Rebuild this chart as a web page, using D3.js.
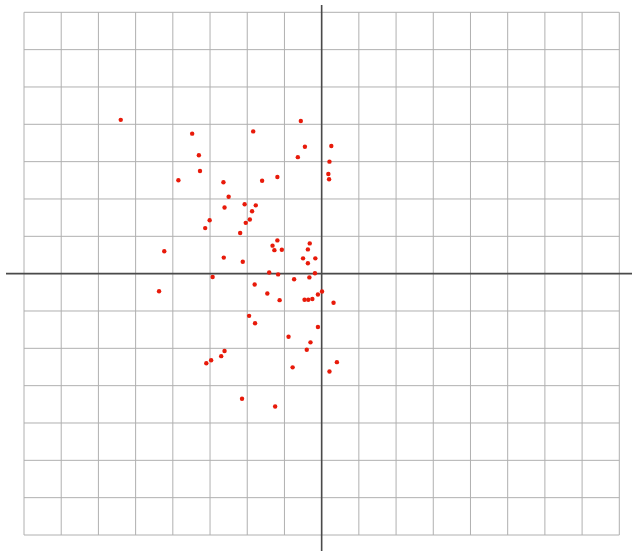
<!DOCTYPE html>
<html>
<head>
<meta charset="utf-8">
<script src="https://cdn.jsdelivr.net/npm/d3@7"></script>
<style>
  body { margin: 0; background: #fff; }
  svg { display: block; }
</style>
</head>
<body>
<svg id="chart" width="632" height="551"></svg>
<script>
// grid extents, in grid units
var xDomain = [-8, 8];
var yDomain = [-7, 7];

// scattered points
var xs = [-5.40, -3.48, -3.30, -3.27, -3.85, -2.64, -2.50, -2.61, -2.07, -1.77,
          -1.87, -1.93, -2.04, -3.01, -3.13, -2.19, -1.84, -1.60, -1.19, -0.56,
          -0.45, -0.64, 0.26, 0.21, 0.18, 0.20, -1.19, -1.32, -1.27, -1.07,
          -0.32, -0.37, -0.50, -0.17, -0.37, -4.23, -2.63, -2.12, -1.41, -1.17,
          -0.74, -0.33, -0.18, -2.93, -4.37, -1.80, -1.46, -1.13, -0.46, -0.36,
          -0.25, -0.10, 0.01, 0.32, -1.95, -1.79, -0.10, -0.89, -0.30, -0.40,
          0.41, 0.21, -0.78, -2.61, -2.70, -2.97, -3.10, -2.14, -1.25];
var ys = [4.12, 3.75, 3.17, 2.75, 2.50, 2.45, 2.06, 1.77, 1.86, 1.83,
          1.67, 1.45, 1.36, 1.43, 1.22, 1.09, 3.81, 2.49, 2.59, 4.09,
          3.40, 3.12, 3.42, 3.00, 2.67, 2.53, 0.89, 0.75, 0.63, 0.64,
          0.81, 0.65, 0.41, 0.41, 0.28, 0.60, 0.43, 0.32, 0.03, -0.02,
          -0.15, -0.10, 0.01, -0.09, -0.47, -0.29, -0.53, -0.71, -0.70, -0.70,
          -0.68, -0.56, -0.48, -0.78, -1.13, -1.33, -1.43, -1.69, -1.84, -2.04,
          -2.37, -2.62, -2.51, -2.07, -2.21, -2.32, -2.40, -3.35, -3.56];

var svg = d3.select("svg#chart");

var x = d3.scaleLinear().domain(xDomain).range([24, 619.3]);
var y = d3.scaleLinear().domain(yDomain).range([535, 12.3]);

var xTicks = d3.range(xDomain[0], xDomain[1] + 1);
var yTicks = d3.range(yDomain[0], yDomain[1] + 1);

// grid
var grid = svg.append("g").attr("stroke", "#b0b0b0").attr("stroke-width", 1);
grid.selectAll("line.v")
    .data(xTicks)
    .enter()
    .append("line")
    .attr("class", "v")
    .attr("x1", d => x(d)).attr("x2", d => x(d))
    .attr("y1", y(yDomain[0])).attr("y2", y(yDomain[1]));
grid.selectAll("line.h")
    .data(yTicks)
    .enter()
    .append("line")
    .attr("class", "h")
    .attr("y1", d => y(d)).attr("y2", d => y(d))
    .attr("x1", x(xDomain[0])).attr("x2", x(xDomain[1]));

// axes through the origin, running past the grid
svg.append("line")
    .attr("x1", 6).attr("x2", 632)
    .attr("y1", y(0)).attr("y2", y(0))
    .attr("stroke", "#4a4a4a").attr("stroke-width", 1.6);
svg.append("line")
    .attr("x1", x(0)).attr("x2", x(0))
    .attr("y1", 5).attr("y2", 551)
    .attr("stroke", "#4a4a4a").attr("stroke-width", 1.6);

// points
svg.selectAll("circle")
    .data(xs)
    .enter()
    .append("circle")
    .attr("cx", d => x(d))
    .attr("cy", (d, i) => y(ys[i]))
    .attr("r", 2.2)
    .attr("fill", "#e81a0a");
</script>
</body>
</html>
